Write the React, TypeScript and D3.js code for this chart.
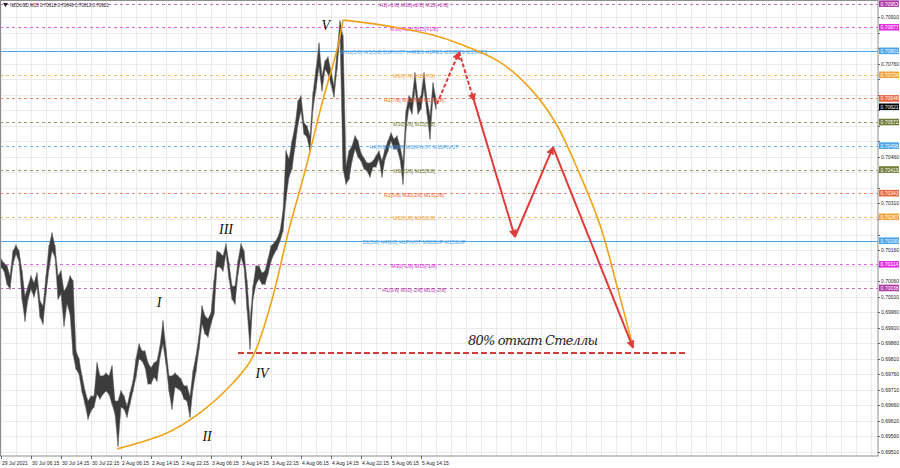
import * as d3 from "d3";

// M15 bars sampled every ~48 min (one sample = 3 px column)
const highs = [
  0.70134, 0.70121, 0.70112, 0.7008, 0.7016, 0.70179, 0.7016, 0.70096, 0.70015, 0.70047,
  0.7008, 0.70057, 0.70089, 0.69999, 0.69983, 0.7008, 0.70176, 0.70218, 0.70176, 0.7008,
  0.70096, 0.70031, 0.70047, 0.7008, 0.70064, 0.69838, 0.69813, 0.69758, 0.6971, 0.69677,
  0.69693, 0.69693, 0.698, 0.69758, 0.69758, 0.69767, 0.69758, 0.6979, 0.69677, 0.69677,
  0.6971, 0.69693, 0.69661, 0.69703, 0.69742, 0.69813, 0.69861, 0.69838, 0.69838, 0.698,
  0.69784, 0.698, 0.69806, 0.69854, 0.69935, 0.69845, 0.69758, 0.69758, 0.69767, 0.69758,
  0.69748, 0.69726, 0.69726, 0.69693, 0.69774, 0.69822, 0.69887, 0.69983, 0.69951, 0.69941,
  0.69961, 0.70064, 0.7016, 0.70154, 0.70144, 0.70183, 0.70121, 0.70047, 0.70047, 0.70128,
  0.70183, 0.7016, 0.70064, 0.69935, 0.70047, 0.70112, 0.70112, 0.70089, 0.70096, 0.70134,
  0.70176, 0.70186, 0.70199, 0.70224, 0.70289, 0.70482, 0.70456, 0.70514, 0.70562, 0.70643,
  0.70659, 0.70572, 0.70562, 0.7053, 0.70669, 0.70746, 0.70829, 0.70723, 0.70771, 0.70784,
  0.70739, 0.70691, 0.70804, 0.709, 0.70852, 0.70434, 0.70482, 0.70498, 0.7053, 0.70514,
  0.70475, 0.70459, 0.70443, 0.70443, 0.7045, 0.70466, 0.70482, 0.7045, 0.70488, 0.70514,
  0.7054, 0.7052, 0.7053, 0.70498, 0.7045, 0.70611, 0.70659, 0.70649, 0.70733, 0.70649,
  0.70659, 0.70733, 0.70649, 0.70595, 0.70701, 0.70649,
];
const lows = [
  0.70102, 0.70089, 0.70047, 0.70031, 0.70112, 0.70144, 0.70121, 0.69999, 0.69928, 0.69999,
  0.70031, 0.70006, 0.70038, 0.69941, 0.69919, 0.70015, 0.70096, 0.70154, 0.70134, 0.69999,
  0.70015, 0.69912, 0.69983, 0.69951, 0.69822, 0.69774, 0.69758, 0.697, 0.69661, 0.69613,
  0.69639, 0.69652, 0.69693, 0.69677, 0.69693, 0.69703, 0.69693, 0.69661, 0.69629, 0.69526,
  0.69652, 0.69645, 0.69619, 0.69661, 0.69703, 0.69748, 0.69806, 0.698, 0.6978, 0.69726,
  0.69726, 0.69748, 0.69735, 0.69813, 0.69854, 0.6979, 0.69703, 0.69645, 0.69716, 0.6971,
  0.69703, 0.69677, 0.69671, 0.69619, 0.6971, 0.69767, 0.69838, 0.69919, 0.69887, 0.69877,
  0.69919, 0.69951, 0.70102, 0.70102, 0.70089, 0.70144, 0.70064, 0.69999, 0.69983, 0.7008,
  0.70134, 0.70102, 0.69967, 0.69838, 0.69999, 0.70047, 0.70064, 0.70047, 0.70047, 0.7008,
  0.70121, 0.70144, 0.7016, 0.70186, 0.70218, 0.70321, 0.70392, 0.70418, 0.70488, 0.70562,
  0.70604, 0.7053, 0.7052, 0.70475, 0.70611, 0.70675, 0.70746, 0.70669, 0.70739, 0.70723,
  0.70691, 0.70649, 0.70739, 0.70852, 0.70418, 0.70369, 0.70385, 0.70443, 0.70482, 0.70456,
  0.70443, 0.70418, 0.70411, 0.70392, 0.70424, 0.70424, 0.7045, 0.70392, 0.7045, 0.70475,
  0.70508, 0.70482, 0.70482, 0.7045, 0.70369, 0.70546, 0.70617, 0.70595, 0.70675, 0.70595,
  0.70611, 0.70675, 0.70595, 0.70514, 0.70649, 0.70611,
];

const symbol = "NZDUSD,M15";
const lastBar = [0.70618, 0.7064, 0.70613, 0.70621];
const lastPrice = 0.70621;

const priceTicks = [
  "0.69510", "0.69560", "0.69610", "0.69660", "0.69710", "0.69760", "0.69810", "0.69860",
  "0.69910", "0.69960", "0.70010", "0.70060", "0.70110", "0.70160", "0.70210", "0.70260",
  "0.70310", "0.70360", "0.70410", "0.70460", "0.70510", "0.70560", "0.70610", "0.70660",
  "0.70710", "0.70760", "0.70810", "0.70860", "0.70910",
];
const timeLabels = [
  "29 Jul 2021", "30 Jul 06:15", "30 Jul 14:15", "30 Jul 22:15", "2 Aug 06:15",
  "2 Aug 14:15", "2 Aug 22:15", "3 Aug 06:15", "3 Aug 14:15", "3 Aug 22:15",
  "4 Aug 06:15", "4 Aug 14:15", "4 Aug 22:15", "5 Aug 06:15", "5 Aug 14:15",
];

const levelPrices = [
  0.70953, 0.70877, 0.70801, 0.70724, 0.70648, 0.70572, 0.70496, 0.70419, 0.70343,
  0.70267, 0.7019, 0.70114, 0.70038,
];
const levelNames = [
  "H1[+1/8] M30[+2/8] M15[+2/8]",
  "M30[+1/8] M15[+1/8]",
  "MN1[5/8] W1[5/8] D1PIVOT H4RES H1RES M30RES M15RES",
  "M30[7/8] M15[7/8]",
  "H1[7/8] M30[6/8] M15[6/8]",
  "M30[5/8] M15[5/8]",
  "H4[7/8] H1[6/8] M30PIVOT M15PIVOT",
  "M30[3/8] M15[3/8]",
  "H1[5/8] M30[2/8] M15[2/8]",
  "M30[1/8] M15[1/8]",
  "D1[5/8] H4[6/8] H1PIVOT M30SUP M15SUP",
  "M30[-1/8] M15[-1/8]",
  "H1[3/8] M30[-2/8] M15[-2/8]",
];
// style per level
const levelColors = [
  "#b23aa6", "#e22ee2", "#4aa3e8", "#f2a33a", "#e9643b", "#6f7a35", "#4aa3e8",
  "#6f7a35", "#e9643b", "#f2a33a", "#4aa3e8", "#e22ee2", "#b23aa6",
];
const levelSolid = [false, false, true, false, false, false, false, false, false, false, true, false, false];

// forecast zigzag (sample index, price)
const projIdx = [145.3, 152.7, 157.7, 171.3, 184, 210.7];
const projPrice = [0.7063, 0.70797, 0.7064, 0.70202, 0.70491, 0.69845];

// Stella arc
const arcUpIdx = [38.7, 55.3, 66.3, 77.3, 83.7, 90.3, 95.7, 101.7, 107.3, 112, 114];
const arcUpPrice = [0.6952, 0.69571, 0.69636, 0.69732, 0.69812, 0.69999, 0.70215, 0.70427, 0.70643, 0.70804, 0.709];
const arcDownIdx = [114, 122, 133, 144, 153, 166.3, 176.3, 184.7, 192.3, 199.7, 205.7, 210.7];
const arcDownPrice = [0.709, 0.70891, 0.70874, 0.70852, 0.70823, 0.70765, 0.70681, 0.70572, 0.70418, 0.7024, 0.70031, 0.69848];

const retracePrice = 0.69829;
const retraceIdx = [79, 229];
const retraceText = "80% откат Стеллы";
const retraceTextAt = [155.7, 0.69854];

const waveNames = ["I", "II", "III", "IV", "V"];
const waveIdx = [52.7, 68.7, 75, 87, 108.3];
const wavePrice = [0.69977, 0.69545, 0.70212, 0.69748, 0.70868];

const W = 900;
const H = 468;
const plotR = 878;
const plotB = 456;
const font = "'Liberation Sans', Arial, sans-serif";

export default function App() {
  const x = d3.scaleLinear().domain([0, 292]).range([1, 877]);
  const y = d3.scaleLinear().domain([0.6951, 0.7091]).range([452, 17]);

  const bars = highs.map((h, i) => ({ i, h, l: lows[i] }));
  const band = d3
    .area<{ i: number; h: number; l: number }>()
    .x((d) => x(d.i))
    .y0((d) => y(d.l) - 1)
    .y1((d) => y(d.h) + 1);

  const arcLine = d3
    .line<[number, number]>()
    .x((d) => x(d[0]))
    .y((d) => y(d[1]))
    .curve(d3.curveCatmullRom.alpha(0.5));

  const arcUp = arcUpIdx.map((v, i) => [v, arcUpPrice[i]] as [number, number]);
  const arcDown = arcDownIdx.map((v, i) => [v, arcDownPrice[i]] as [number, number]);

  const gridX = d3.range(0, 292, 5);
  const red = "#df3b3b";

  // tick labels hidden where a level marker box covers them
  const markers = [...levelPrices, lastPrice].map((p) => y(p));
  const visibleTicks = priceTicks.filter((t) => markers.every((m) => Math.abs(m - y(+t)) > 6.5));

  return (
    <svg
      width={W}
      height={H}
      style={{ position: "fixed", left: 0, top: 0, background: "#fff" }}
      fontFamily={font}
    >
      <defs>
        <marker id="ah" viewBox="0 0 10 10" refX="9" refY="5" markerWidth="8" markerHeight="8" markerUnits="userSpaceOnUse" orient="auto">
          <path d="M0,0 L10,5 L0,10 z" fill={red} />
        </marker>
        <clipPath id="plot">
          <rect x={0} y={0} width={plotR} height={plotB} />
        </clipPath>
      </defs>
      <rect width={W} height={H} fill="#fff" />

      {/* grid */}
      <g stroke="#ebebeb" strokeWidth={1}>
        {gridX.map((g) => (
          <line key={"gx" + g} x1={Math.round(x(g)) + 0.5} x2={Math.round(x(g)) + 0.5} y1={0} y2={plotB} />
        ))}
        {priceTicks.map((t) => (
          <line key={"gy" + t} x1={0} x2={plotR} y1={Math.round(y(+t)) + 0.5} y2={Math.round(y(+t)) + 0.5} />
        ))}
      </g>

      {/* murrey levels */}
      <g clipPath="url(#plot)">
        {levelPrices.map((p, i) => (
          <line
            key={"lv" + i}
            x1={0}
            x2={plotR}
            y1={Math.round(y(p)) + 0.5}
            y2={Math.round(y(p)) + 0.5}
            stroke={levelColors[i]}
            strokeOpacity={levelSolid[i] ? 1 : 0.75}
            strokeDasharray={levelSolid[i] ? undefined : "3,3"}
            strokeWidth={1}
          />
        ))}
      </g>

      {/* price */}
      <g clipPath="url(#plot)">
        {bars.map((b) => (
          <line key={"b" + b.i} x1={x(b.i)} x2={x(b.i)} y1={y(b.h)} y2={y(b.l)} stroke="#9a9a9a" strokeWidth={1} />
        ))}
        <path d={band(bars) ?? ""} fill="#3c3c3c" stroke="#666" strokeWidth={0.5} />
      </g>

      {/* level labels */}
      <g fontSize={5.2} textAnchor="middle">
        {levelPrices.map((p, i) => (
          <text key={"lt" + i} x={414} y={y(p) + 1.6} dominantBaseline="central" fill={levelColors[i]}>
            {levelNames[i]}
          </text>
        ))}
      </g>

      {/* Stella arc */}
      <path d={arcLine(arcUp) ?? ""} fill="none" stroke="#f0a318" strokeWidth={1.6} />
      <path d={arcLine(arcDown) ?? ""} fill="none" stroke="#f0a318" strokeWidth={1.6} />

      {/* retrace line */}
      <line
        x1={x(retraceIdx[0])}
        x2={x(retraceIdx[1])}
        y1={y(retracePrice)}
        y2={y(retracePrice)}
        stroke="#d43c3c"
        strokeWidth={2}
        strokeDasharray="6,3"
      />
      <text
        x={x(retraceTextAt[0])}
        y={y(retraceTextAt[1])}
        fontFamily="'DejaVu Serif', serif"
        fontStyle="italic"
        fontSize={13}
        textLength={130}
        fill="#222"
      >
        {retraceText}
      </text>

      {/* forecast zigzag */}
      {projIdx.slice(1).map((v, i) => (
        <line
          key={"pj" + i}
          x1={x(projIdx[i])}
          y1={y(projPrice[i])}
          x2={x(v)}
          y2={y(projPrice[i + 1])}
          stroke={red}
          strokeWidth={2}
          strokeDasharray={i < 2 ? "4,2" : undefined}
          markerEnd="url(#ah)"
        />
      ))}

      {/* wave labels */}
      <g fontFamily="'Liberation Serif', serif" fontStyle="italic" fontSize={14} fill="#111" textAnchor="middle">
        {waveNames.map((n, i) => (
          <text key={n} x={x(waveIdx[i])} y={y(wavePrice[i])}>
            {n}
          </text>
        ))}
      </g>

      {/* frame */}
      <rect x={0.5} y={0.5} width={plotR - 0.5} height={plotB - 0.5} fill="none" stroke="#8c8c8c" strokeWidth={1} />

      {/* right axis */}
      <g fontSize={5} fill="#222">
        {priceTicks.map((t) => (
          <line key={"ytl" + t} x1={plotR} x2={plotR + 2} y1={Math.round(y(+t)) + 0.5} y2={Math.round(y(+t)) + 0.5} stroke="#666" />
        ))}
        {visibleTicks.map((t) => (
          <text key={"yt" + t} x={plotR + 3} y={y(+t)} dominantBaseline="central">
            {t}
          </text>
        ))}
      </g>
      <g fontSize={5}>
        {levelPrices.map((p, i) => (
          <g key={"mk" + i}>
            <rect x={plotR + 1} y={y(p) - 3.3} width={20} height={6.6} fill={levelColors[i]} />
            <text x={plotR + 2.5} y={y(p)} dominantBaseline="central" fill="#fff">
              {p.toFixed(5)}
            </text>
          </g>
        ))}
        <rect x={plotR + 1} y={y(lastPrice) - 3.3} width={20} height={6.6} fill="#000" />
        <text x={plotR + 2.5} y={y(lastPrice)} dominantBaseline="central" fill="#fff">
          {lastPrice.toFixed(5)}
        </text>
      </g>

      {/* bottom axis */}
      <g fontSize={5} fill="#222">
        {timeLabels.map((t, k) => (
          <g key={t}>
            <line x1={Math.round(x(k * 10)) + 0.5} x2={Math.round(x(k * 10)) + 0.5} y1={plotB} y2={plotB + 3} stroke="#666" />
            <text x={x(k * 10) + 1} y={plotB + 7} dominantBaseline="central">
              {t}
            </text>
          </g>
        ))}
      </g>

      {/* header */}
      <path d="M3,3 L8,3 L5.5,7 z" fill="#222" />
      <text x={10} y={5.5} fontSize={4.5} fill="#222" dominantBaseline="central">
        {symbol + " " + lastBar.map((v) => v.toFixed(5)).join(" ")}
      </text>
    </svg>
  );
}
